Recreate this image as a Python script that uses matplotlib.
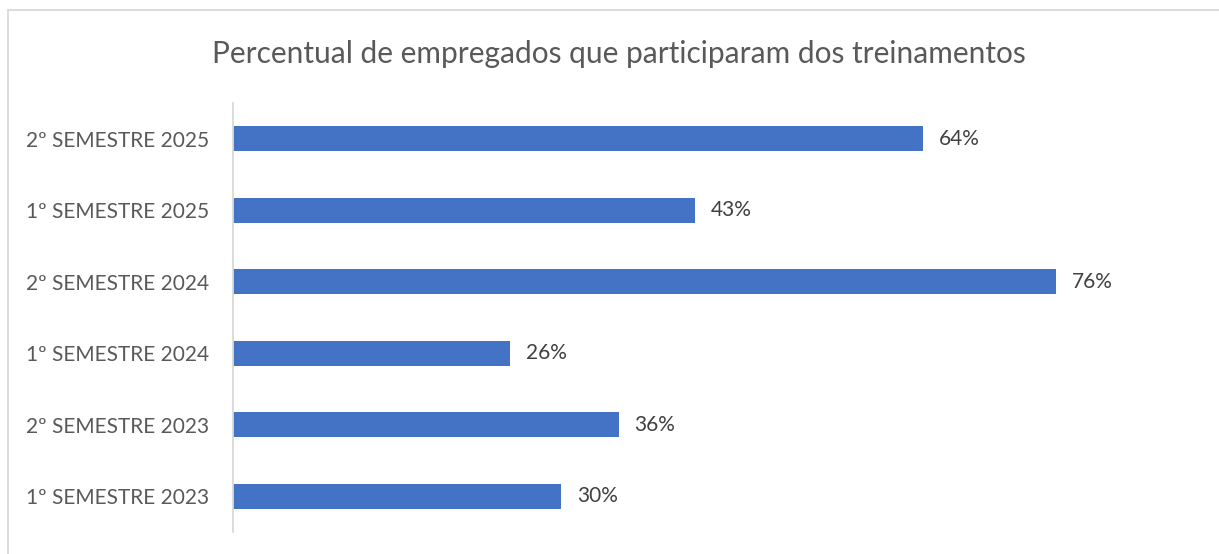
import matplotlib
matplotlib.use("Agg")
import matplotlib.pyplot as plt
from matplotlib.patches import Rectangle

categories = ["1º SEMESTRE 2023", "2º SEMESTRE 2023", "1º SEMESTRE 2024",
              "2º SEMESTRE 2024", "1º SEMESTRE 2025", "2º SEMESTRE 2025"]
percent = [30.3, 35.6, 25.6, 75.9, 42.6, 63.7]
title = "Percentual de empregados que participaram dos treinamentos"

BLUE = "#4472C4"
TEXT = "#595959"
LABEL = "#404040"
GRID = "#D9D9D9"

plt.rcParams["font.family"] = ["Lato", "DejaVu Sans"]

W, H = 1219, 554
fig = plt.figure(figsize=(W / 100, H / 100), dpi=100)

# chart area border (only left and top are inside the crop)
fig.patches.append(Rectangle((8 / W, -0.1), 1.2, 1 - 10 / H + 0.1,
                             transform=fig.transFigure, fill=False,
                             edgecolor=GRID, linewidth=1.3))

ax = fig.add_axes([232.7 / W, 1 - 532 / H, (1100 - 232.7) / W, (532 - 103) / H])
y = range(len(categories))
bars = ax.barh(y, percent, height=0.35, color=BLUE)
ax.set_xlim(0, 80)
ax.set_ylim(-0.5, len(categories) - 0.5)

for b, v in zip(bars, percent):
    ax.annotate(f"{v:.0f}%", (b.get_width(), b.get_y() + b.get_height() / 2),
                xytext=(11.5, 0), textcoords="offset points",
                va="center", ha="left", fontsize=15, color=LABEL)

ax.set_yticks(list(y))
ax.set_yticklabels(categories, fontsize=15, color=TEXT)
ax.tick_params(axis="y", length=0, pad=17)
ax.set_xticks([])
for s in ["top", "right", "bottom"]:
    ax.spines[s].set_visible(False)
ax.spines["left"].set_color(GRID)
ax.spines["left"].set_linewidth(1.3)

fig.text(619 / W, 1 - 54 / H, title, ha="center", va="center",
         fontsize=21.5, color=TEXT)

fig.savefig("out.png", dpi=100)
